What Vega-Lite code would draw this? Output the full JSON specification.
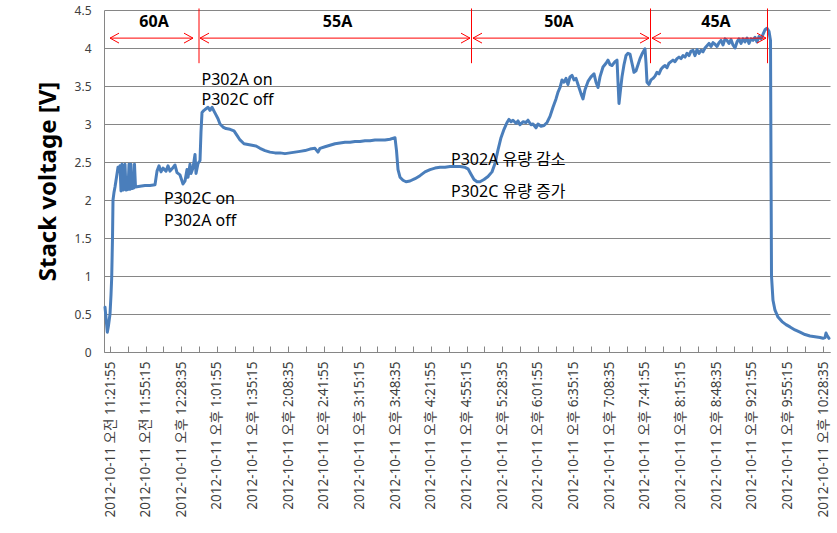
{
  "$schema": "https://vega.github.io/schema/vega-lite/v6.json",
  "width": 726,
  "height": 342,
  "autosize": "none",
  "padding": {"left": 104, "top": 10, "right": 7, "bottom": 181},
  "background": "white",
  "config": {"view": {"stroke": null}},
  "datasets": {
    "series": [
      {"t":"2012-10-11T11:17:15Z","v":0.59},{"t":"2012-10-11T11:18:11Z","v":0.45},{"t":"2012-10-11T11:19:24Z","v":0.26},{"t":"2012-10-11T11:20:31Z","v":0.35},
      {"t":"2012-10-11T11:21:55Z","v":0.5},{"t":"2012-10-11T11:22:51Z","v":0.75},{"t":"2012-10-11T11:23:30Z","v":0.98},{"t":"2012-10-11T11:24:15Z","v":1.5},
      {"t":"2012-10-11T11:24:43Z","v":2.0},{"t":"2012-10-11T11:25:39Z","v":2.1},{"t":"2012-10-11T11:26:35Z","v":2.17},{"t":"2012-10-11T11:27:59Z","v":2.3},
      {"t":"2012-10-11T11:29:24Z","v":2.43},{"t":"2012-10-11T11:30:20Z","v":2.38},{"t":"2012-10-11T11:31:16Z","v":2.45},{"t":"2012-10-11T11:32:12Z","v":2.12},
      {"t":"2012-10-11T11:33:08Z","v":2.47},{"t":"2012-10-11T11:34:04Z","v":2.13},{"t":"2012-10-11T11:35:28Z","v":2.15},{"t":"2012-10-11T11:35:56Z","v":2.47},
      {"t":"2012-10-11T11:36:53Z","v":2.13},{"t":"2012-10-11T11:38:45Z","v":2.14},{"t":"2012-10-11T11:39:41Z","v":2.47},{"t":"2012-10-11T11:40:37Z","v":2.14},
      {"t":"2012-10-11T11:41:33Z","v":2.47},{"t":"2012-10-11T11:42:29Z","v":2.15},{"t":"2012-10-11T11:44:21Z","v":2.16},{"t":"2012-10-11T11:44:49Z","v":2.47},
      {"t":"2012-10-11T11:45:45Z","v":2.17},{"t":"2012-10-11T11:49:58Z","v":2.18},{"t":"2012-10-11T11:54:38Z","v":2.19},{"t":"2012-10-11T11:59:19Z","v":2.19},
      {"t":"2012-10-11T12:03:59Z","v":2.2},{"t":"2012-10-11T12:05:52Z","v":2.38},{"t":"2012-10-11T12:07:44Z","v":2.45},{"t":"2012-10-11T12:09:36Z","v":2.37},
      {"t":"2012-10-11T12:11:28Z","v":2.42},{"t":"2012-10-11T12:14:17Z","v":2.38},{"t":"2012-10-11T12:16:09Z","v":2.45},{"t":"2012-10-11T12:18:01Z","v":2.38},
      {"t":"2012-10-11T12:19:53Z","v":2.41},{"t":"2012-10-11T12:22:41Z","v":2.46},{"t":"2012-10-11T12:24:34Z","v":2.36},{"t":"2012-10-11T12:27:22Z","v":2.33},
      {"t":"2012-10-11T12:30:10Z","v":2.21},{"t":"2012-10-11T12:32:03Z","v":2.25},{"t":"2012-10-11T12:33:55Z","v":2.4},{"t":"2012-10-11T12:34:51Z","v":2.3},
      {"t":"2012-10-11T12:36:43Z","v":2.47},{"t":"2012-10-11T12:37:39Z","v":2.35},{"t":"2012-10-11T12:39:31Z","v":2.42},{"t":"2012-10-11T12:41:23Z","v":2.6},
      {"t":"2012-10-11T12:42:20Z","v":2.35},{"t":"2012-10-11T12:44:12Z","v":2.48},{"t":"2012-10-11T12:46:04Z","v":2.52},{"t":"2012-10-11T12:47:00Z","v":2.9},
      {"t":"2012-10-11T12:47:56Z","v":3.15},{"t":"2012-10-11T12:49:48Z","v":3.18},{"t":"2012-10-11T12:51:40Z","v":3.2},{"t":"2012-10-11T12:53:33Z","v":3.22},
      {"t":"2012-10-11T12:55:25Z","v":3.18},{"t":"2012-10-11T12:57:17Z","v":3.22},{"t":"2012-10-11T12:59:09Z","v":3.17},{"t":"2012-10-11T13:01:01Z","v":3.12},
      {"t":"2012-10-11T13:02:54Z","v":3.07},{"t":"2012-10-11T13:04:46Z","v":3.0},{"t":"2012-10-11T13:07:34Z","v":2.96},{"t":"2012-10-11T13:10:23Z","v":2.94},
      {"t":"2012-10-11T13:14:07Z","v":2.93},{"t":"2012-10-11T13:17:51Z","v":2.91},{"t":"2012-10-11T13:20:40Z","v":2.85},{"t":"2012-10-11T13:23:28Z","v":2.79},
      {"t":"2012-10-11T13:27:12Z","v":2.74},{"t":"2012-10-11T13:30:57Z","v":2.73},{"t":"2012-10-11T13:34:41Z","v":2.72},{"t":"2012-10-11T13:38:26Z","v":2.71},
      {"t":"2012-10-11T13:42:10Z","v":2.68},{"t":"2012-10-11T13:46:50Z","v":2.65},{"t":"2012-10-11T13:51:31Z","v":2.63},{"t":"2012-10-11T13:56:11Z","v":2.62},
      {"t":"2012-10-11T14:00:52Z","v":2.62},{"t":"2012-10-11T14:05:32Z","v":2.61},{"t":"2012-10-11T14:10:13Z","v":2.62},{"t":"2012-10-11T14:14:53Z","v":2.63},
      {"t":"2012-10-11T14:19:34Z","v":2.64},{"t":"2012-10-11T14:24:14Z","v":2.65},{"t":"2012-10-11T14:28:55Z","v":2.67},{"t":"2012-10-11T14:33:35Z","v":2.68},
      {"t":"2012-10-11T14:36:24Z","v":2.63},{"t":"2012-10-11T14:38:16Z","v":2.68},{"t":"2012-10-11T14:42:56Z","v":2.7},{"t":"2012-10-11T14:47:37Z","v":2.72},
      {"t":"2012-10-11T14:52:17Z","v":2.74},{"t":"2012-10-11T14:56:58Z","v":2.75},{"t":"2012-10-11T15:01:38Z","v":2.76},{"t":"2012-10-11T15:06:19Z","v":2.76},
      {"t":"2012-10-11T15:10:59Z","v":2.77},{"t":"2012-10-11T15:15:40Z","v":2.77},{"t":"2012-10-11T15:20:20Z","v":2.78},{"t":"2012-10-11T15:25:01Z","v":2.78},
      {"t":"2012-10-11T15:29:41Z","v":2.79},{"t":"2012-10-11T15:34:22Z","v":2.79},{"t":"2012-10-11T15:39:02Z","v":2.79},{"t":"2012-10-11T15:43:43Z","v":2.8},
      {"t":"2012-10-11T15:48:23Z","v":2.82},{"t":"2012-10-11T15:49:48Z","v":2.65},{"t":"2012-10-11T15:51:12Z","v":2.4},{"t":"2012-10-11T15:53:04Z","v":2.3},
      {"t":"2012-10-11T15:55:52Z","v":2.26},{"t":"2012-10-11T15:58:41Z","v":2.24},{"t":"2012-10-11T16:02:25Z","v":2.25},{"t":"2012-10-11T16:07:05Z","v":2.28},
      {"t":"2012-10-11T16:11:46Z","v":2.32},{"t":"2012-10-11T16:16:26Z","v":2.37},{"t":"2012-10-11T16:21:07Z","v":2.4},{"t":"2012-10-11T16:25:47Z","v":2.42},
      {"t":"2012-10-11T16:30:28Z","v":2.43},{"t":"2012-10-11T16:35:08Z","v":2.43},{"t":"2012-10-11T16:39:49Z","v":2.44},{"t":"2012-10-11T16:44:29Z","v":2.44},
      {"t":"2012-10-11T16:49:10Z","v":2.44},{"t":"2012-10-11T16:53:50Z","v":2.43},{"t":"2012-10-11T16:56:39Z","v":2.41},{"t":"2012-10-11T16:59:27Z","v":2.34},
      {"t":"2012-10-11T17:02:16Z","v":2.27},{"t":"2012-10-11T17:05:04Z","v":2.24},{"t":"2012-10-11T17:07:52Z","v":2.24},{"t":"2012-10-11T17:11:37Z","v":2.27},
      {"t":"2012-10-11T17:15:21Z","v":2.31},{"t":"2012-10-11T17:19:05Z","v":2.37},{"t":"2012-10-11T17:21:53Z","v":2.48},{"t":"2012-10-11T17:24:42Z","v":2.66},
      {"t":"2012-10-11T17:27:30Z","v":2.82},{"t":"2012-10-11T17:30:19Z","v":2.93},{"t":"2012-10-11T17:33:07Z","v":3.02},{"t":"2012-10-11T17:34:59Z","v":3.06},
      {"t":"2012-10-11T17:36:51Z","v":3.03},{"t":"2012-10-11T17:38:43Z","v":3.05},{"t":"2012-10-11T17:41:32Z","v":3.01},{"t":"2012-10-11T17:43:24Z","v":3.04},
      {"t":"2012-10-11T17:45:16Z","v":2.99},{"t":"2012-10-11T17:48:04Z","v":3.03},{"t":"2012-10-11T17:50:53Z","v":3.02},{"t":"2012-10-11T17:52:45Z","v":3.05},
      {"t":"2012-10-11T17:55:33Z","v":2.99},{"t":"2012-10-11T17:57:25Z","v":3.0},{"t":"2012-10-11T18:00:14Z","v":2.95},{"t":"2012-10-11T18:02:06Z","v":3.0},
      {"t":"2012-10-11T18:04:54Z","v":2.97},{"t":"2012-10-11T18:07:43Z","v":2.98},{"t":"2012-10-11T18:10:31Z","v":3.02},{"t":"2012-10-11T18:13:19Z","v":3.1},
      {"t":"2012-10-11T18:16:07Z","v":3.22},{"t":"2012-10-11T18:18:56Z","v":3.33},{"t":"2012-10-11T18:20:48Z","v":3.42},{"t":"2012-10-11T18:22:40Z","v":3.48},
      {"t":"2012-10-11T18:24:32Z","v":3.58},{"t":"2012-10-11T18:26:25Z","v":3.55},{"t":"2012-10-11T18:28:17Z","v":3.6},{"t":"2012-10-11T18:30:09Z","v":3.52},
      {"t":"2012-10-11T18:32:01Z","v":3.62},{"t":"2012-10-11T18:33:53Z","v":3.64},{"t":"2012-10-11T18:35:46Z","v":3.58},{"t":"2012-10-11T18:37:38Z","v":3.6},
      {"t":"2012-10-11T18:39:30Z","v":3.52},{"t":"2012-10-11T18:42:18Z","v":3.4},{"t":"2012-10-11T18:44:10Z","v":3.33},{"t":"2012-10-11T18:46:02Z","v":3.45},
      {"t":"2012-10-11T18:48:51Z","v":3.56},{"t":"2012-10-11T18:51:39Z","v":3.62},{"t":"2012-10-11T18:54:28Z","v":3.66},{"t":"2012-10-11T18:56:20Z","v":3.55},
      {"t":"2012-10-11T18:58:12Z","v":3.48},{"t":"2012-10-11T19:00:04Z","v":3.62},{"t":"2012-10-11T19:02:52Z","v":3.75},{"t":"2012-10-11T19:05:41Z","v":3.8},
      {"t":"2012-10-11T19:07:33Z","v":3.84},{"t":"2012-10-11T19:09:25Z","v":3.78},{"t":"2012-10-11T19:11:17Z","v":3.77},{"t":"2012-10-11T19:14:05Z","v":3.82},
      {"t":"2012-10-11T19:15:58Z","v":3.84},{"t":"2012-10-11T19:16:54Z","v":3.55},{"t":"2012-10-11T19:17:50Z","v":3.27},{"t":"2012-10-11T19:19:14Z","v":3.45},
      {"t":"2012-10-11T19:20:38Z","v":3.62},{"t":"2012-10-11T19:22:30Z","v":3.78},{"t":"2012-10-11T19:24:23Z","v":3.9},{"t":"2012-10-11T19:26:15Z","v":3.93},
      {"t":"2012-10-11T19:28:07Z","v":3.92},{"t":"2012-10-11T19:29:59Z","v":3.8},{"t":"2012-10-11T19:31:51Z","v":3.68},{"t":"2012-10-11T19:33:44Z","v":3.7},
      {"t":"2012-10-11T19:35:36Z","v":3.78},{"t":"2012-10-11T19:37:28Z","v":3.86},{"t":"2012-10-11T19:39:20Z","v":3.92},{"t":"2012-10-11T19:42:08Z","v":3.99},
      {"t":"2012-10-11T19:43:05Z","v":3.8},{"t":"2012-10-11T19:44:01Z","v":3.55},{"t":"2012-10-11T19:45:53Z","v":3.52},{"t":"2012-10-11T19:47:45Z","v":3.58},
      {"t":"2012-10-11T19:49:37Z","v":3.6},{"t":"2012-10-11T19:51:30Z","v":3.63},{"t":"2012-10-11T19:53:22Z","v":3.68},{"t":"2012-10-11T19:55:14Z","v":3.66},
      {"t":"2012-10-11T19:57:06Z","v":3.72},{"t":"2012-10-11T19:58:58Z","v":3.75},{"t":"2012-10-11T20:00:51Z","v":3.77},{"t":"2012-10-11T20:02:43Z","v":3.74},
      {"t":"2012-10-11T20:04:35Z","v":3.8},{"t":"2012-10-11T20:06:27Z","v":3.82},{"t":"2012-10-11T20:08:19Z","v":3.84},{"t":"2012-10-11T20:10:12Z","v":3.82},
      {"t":"2012-10-11T20:12:04Z","v":3.86},{"t":"2012-10-11T20:13:56Z","v":3.88},{"t":"2012-10-11T20:15:48Z","v":3.86},{"t":"2012-10-11T20:17:40Z","v":3.9},
      {"t":"2012-10-11T20:19:33Z","v":3.88},{"t":"2012-10-11T20:21:25Z","v":3.93},{"t":"2012-10-11T20:23:17Z","v":3.9},{"t":"2012-10-11T20:25:09Z","v":3.96},
      {"t":"2012-10-11T20:27:01Z","v":3.97},{"t":"2012-10-11T20:28:54Z","v":3.9},{"t":"2012-10-11T20:30:46Z","v":3.98},{"t":"2012-10-11T20:32:38Z","v":3.93},
      {"t":"2012-10-11T20:34:30Z","v":3.97},{"t":"2012-10-11T20:36:22Z","v":3.95},{"t":"2012-10-11T20:38:15Z","v":4.0},{"t":"2012-10-11T20:40:07Z","v":4.03},
      {"t":"2012-10-11T20:41:59Z","v":4.06},{"t":"2012-10-11T20:43:51Z","v":4.02},{"t":"2012-10-11T20:45:43Z","v":4.07},{"t":"2012-10-11T20:47:36Z","v":4.05},
      {"t":"2012-10-11T20:49:28Z","v":4.02},{"t":"2012-10-11T20:51:20Z","v":4.07},{"t":"2012-10-11T20:53:12Z","v":4.1},{"t":"2012-10-11T20:55:04Z","v":4.04},
      {"t":"2012-10-11T20:56:57Z","v":4.12},{"t":"2012-10-11T20:58:49Z","v":4.1},{"t":"2012-10-11T21:00:41Z","v":4.06},{"t":"2012-10-11T21:02:33Z","v":4.11},
      {"t":"2012-10-11T21:04:25Z","v":4.04},{"t":"2012-10-11T21:06:18Z","v":4.0},{"t":"2012-10-11T21:08:10Z","v":4.08},{"t":"2012-10-11T21:10:02Z","v":4.12},
      {"t":"2012-10-11T21:11:54Z","v":4.06},{"t":"2012-10-11T21:13:46Z","v":4.12},{"t":"2012-10-11T21:15:39Z","v":4.08},{"t":"2012-10-11T21:17:31Z","v":4.13},
      {"t":"2012-10-11T21:19:23Z","v":4.06},{"t":"2012-10-11T21:21:15Z","v":4.12},{"t":"2012-10-11T21:23:07Z","v":4.1},{"t":"2012-10-11T21:25:00Z","v":4.14},
      {"t":"2012-10-11T21:26:52Z","v":4.08},{"t":"2012-10-11T21:28:44Z","v":4.15},{"t":"2012-10-11T21:30:36Z","v":4.12},{"t":"2012-10-11T21:32:28Z","v":4.18},
      {"t":"2012-10-11T21:34:21Z","v":4.24},{"t":"2012-10-11T21:36:13Z","v":4.26},{"t":"2012-10-11T21:38:05Z","v":4.22},{"t":"2012-10-11T21:39:29Z","v":4.1},
      {"t":"2012-10-11T21:39:57Z","v":2.5},{"t":"2012-10-11T21:40:25Z","v":1.0},{"t":"2012-10-11T21:41:49Z","v":0.68},{"t":"2012-10-11T21:43:41Z","v":0.55},
      {"t":"2012-10-11T21:46:30Z","v":0.46},{"t":"2012-10-11T21:50:14Z","v":0.4},{"t":"2012-10-11T21:53:59Z","v":0.36},{"t":"2012-10-11T21:57:43Z","v":0.33},
      {"t":"2012-10-11T22:02:23Z","v":0.29},{"t":"2012-10-11T22:07:04Z","v":0.26},{"t":"2012-10-11T22:11:44Z","v":0.23},{"t":"2012-10-11T22:16:25Z","v":0.21},
      {"t":"2012-10-11T22:21:05Z","v":0.2},{"t":"2012-10-11T22:25:46Z","v":0.19},{"t":"2012-10-11T22:28:34Z","v":0.18},{"t":"2012-10-11T22:30:26Z","v":0.19},
      {"t":"2012-10-11T22:31:23Z","v":0.25},{"t":"2012-10-11T22:32:19Z","v":0.22},{"t":"2012-10-11T22:34:11Z","v":0.18}
    ],
    "segments": [
      {"label":"60A","start":"2012-10-11T11:21:55Z","end":"2012-10-11T12:39:31Z","mid":"2012-10-11T12:03:04Z","v":4.13,"lv":4.34},
      {"label":"55A","start":"2012-10-11T12:46:04Z","end":"2012-10-11T16:58:31Z","mid":"2012-10-11T14:54:38Z","v":4.13,"lv":4.34},
      {"label":"50A","start":"2012-10-11T17:01:19Z","end":"2012-10-11T19:45:53Z","mid":"2012-10-11T18:21:43Z","v":4.13,"lv":4.34},
      {"label":"45A","start":"2012-10-11T19:48:41Z","end":"2012-10-11T21:35:17Z","mid":"2012-10-11T20:48:32Z","v":4.13,"lv":4.34}
    ],
    "boundaries": [
      {"t":"2012-10-11T12:45:08Z","v1":3.8,"v2":4.52},
      {"t":"2012-10-11T16:59:55Z","v1":3.8,"v2":4.52},
      {"t":"2012-10-11T19:47:17Z","v1":3.8,"v2":4.52},
      {"t":"2012-10-11T21:36:41Z","v1":3.8,"v2":4.52}
    ],
    "notes": [
      {"t":"2012-10-11T12:47:28Z","v":3.58,"text":"P302A on"},
      {"t":"2012-10-11T12:47:28Z","v":3.31,"text":"P302C off"},
      {"t":"2012-10-11T12:12:25Z","v":2.01,"text":"P302C on"},
      {"t":"2012-10-11T12:12:25Z","v":1.72,"text":"P302A off"},
      {"t":"2012-10-11T16:40:45Z","v":2.52,"text":"P302A 유량 감소"},
      {"t":"2012-10-11T16:40:45Z","v":2.11,"text":"P302C 유량 증가"}
    ]
  },
  "layer": [
    {
      "data": {"name": "series"},
      "mark": {"type": "line", "color": "#4a7ebb", "strokeWidth": 3, "strokeJoin": "round", "strokeCap": "round"},
      "encoding": {
        "x": {
          "field": "t", "type": "temporal",
          "scale": {"type": "utc", "domain": [1349954178000, 1349994907000], "nice": false},
          "axis": {
            "title": null, "grid": false,
            "values": [1349954515000,1349955515000,1349956515000,1349957515000,1349958515000,1349959515000,1349960515000,1349961515000,1349962515000,1349963515000,1349964515000,1349965515000,1349966515000,1349967515000,1349968515000,1349969515000,1349970515000,1349971515000,1349972515000,1349973515000,1349974515000,1349975515000,1349976515000,1349977515000,1349978515000,1349979515000,1349980515000,1349981515000,1349982515000,1349983515000,1349984515000,1349985515000,1349986515000,1349987515000,1349988515000,1349989515000,1349990515000,1349991515000,1349992515000,1349993515000,1349994515000],
            "labelExpr": "((datum.value - 1349954515000) / 1000000) % 2 == 0 ? utcFormat(datum.value, '%Y-%m-%d') + ' ' + (utchours(datum.value) < 12 ? '오전' : '오후') + ' ' + utcFormat(datum.value, '%-I:%M:%S') : ''",
            "labelAngle": -90, "labelOverlap": false, "labelFlush": false, "labelBound": false,
            "labelFont": "Noto Sans, Noto Sans CJK KR", "labelFontSize": 13.5, "labelColor": "#404040",
            "labelPadding": 15, "tickSize": -6, "tickColor": "#868686", "domainColor": "#868686"
          }
        },
        "y": {
          "field": "v", "type": "quantitative",
          "scale": {"domain": [0, 4.5], "nice": false},
          "axis": {
            "title": "Stack voltage [V]", "titleFont": "Noto Sans", "titleFontSize": 24, "titleFontWeight": "bold", "titleColor": "#000000", "titlePadding": 14,
            "values": [0, 0.5, 1, 1.5, 2, 2.5, 3, 3.5, 4, 4.5], "format": ".1~f",
            "ticks": false, "labelOverlap": false, "labelPadding": 13, "labelFont": "Noto Sans", "labelFontSize": 12, "labelColor": "#404040",
            "grid": true, "gridColor": "#868686", "gridWidth": 1, "domainColor": "#868686"
          }
        }
      }
    },
    {
      "data": {"name": "boundaries"},
      "mark": {"type": "rule", "color": "#ff0000", "strokeWidth": 1},
      "encoding": {
        "x": {"field": "t", "type": "temporal",
          "axis": {
            "title": null, "grid": false,
            "values": [1349954515000,1349955515000,1349956515000,1349957515000,1349958515000,1349959515000,1349960515000,1349961515000,1349962515000,1349963515000,1349964515000,1349965515000,1349966515000,1349967515000,1349968515000,1349969515000,1349970515000,1349971515000,1349972515000,1349973515000,1349974515000,1349975515000,1349976515000,1349977515000,1349978515000,1349979515000,1349980515000,1349981515000,1349982515000,1349983515000,1349984515000,1349985515000,1349986515000,1349987515000,1349988515000,1349989515000,1349990515000,1349991515000,1349992515000,1349993515000,1349994515000],
            "labelExpr": "((datum.value - 1349954515000) / 1000000) % 2 == 0 ? utcFormat(datum.value, '%Y-%m-%d') + ' ' + (utchours(datum.value) < 12 ? '오전' : '오후') + ' ' + utcFormat(datum.value, '%-I:%M:%S') : ''",
            "labelAngle": -90, "labelOverlap": false, "labelFlush": false, "labelBound": false,
            "labelFont": "Noto Sans, Noto Sans CJK KR", "labelFontSize": 13.5, "labelColor": "#404040",
            "labelPadding": 15, "tickSize": -6, "tickColor": "#868686", "domainColor": "#868686"
          }},
        "y": {"field": "v1", "type": "quantitative",
          "axis": {
            "title": "Stack voltage [V]", "titleFont": "Noto Sans", "titleFontSize": 24, "titleFontWeight": "bold", "titleColor": "#000000", "titlePadding": 14,
            "values": [0, 0.5, 1, 1.5, 2, 2.5, 3, 3.5, 4, 4.5], "format": ".1~f",
            "ticks": false, "labelOverlap": false, "labelPadding": 13, "labelFont": "Noto Sans", "labelFontSize": 12, "labelColor": "#404040",
            "grid": true, "gridColor": "#868686", "gridWidth": 1, "domainColor": "#868686"
          }},
        "y2": {"field": "v2"}
      }
    },
    {
      "data": {"name": "segments"},
      "mark": {"type": "rule", "color": "#ff0000", "strokeWidth": 1},
      "encoding": {
        "x": {"field": "start", "type": "temporal",
          "axis": {
            "title": null, "grid": false,
            "values": [1349954515000,1349955515000,1349956515000,1349957515000,1349958515000,1349959515000,1349960515000,1349961515000,1349962515000,1349963515000,1349964515000,1349965515000,1349966515000,1349967515000,1349968515000,1349969515000,1349970515000,1349971515000,1349972515000,1349973515000,1349974515000,1349975515000,1349976515000,1349977515000,1349978515000,1349979515000,1349980515000,1349981515000,1349982515000,1349983515000,1349984515000,1349985515000,1349986515000,1349987515000,1349988515000,1349989515000,1349990515000,1349991515000,1349992515000,1349993515000,1349994515000],
            "labelExpr": "((datum.value - 1349954515000) / 1000000) % 2 == 0 ? utcFormat(datum.value, '%Y-%m-%d') + ' ' + (utchours(datum.value) < 12 ? '오전' : '오후') + ' ' + utcFormat(datum.value, '%-I:%M:%S') : ''",
            "labelAngle": -90, "labelOverlap": false, "labelFlush": false, "labelBound": false,
            "labelFont": "Noto Sans, Noto Sans CJK KR", "labelFontSize": 13.5, "labelColor": "#404040",
            "labelPadding": 15, "tickSize": -6, "tickColor": "#868686", "domainColor": "#868686"
          }},
        "x2": {"field": "end"},
        "y": {"field": "v", "type": "quantitative",
          "axis": {
            "title": "Stack voltage [V]", "titleFont": "Noto Sans", "titleFontSize": 24, "titleFontWeight": "bold", "titleColor": "#000000", "titlePadding": 14,
            "values": [0, 0.5, 1, 1.5, 2, 2.5, 3, 3.5, 4, 4.5], "format": ".1~f",
            "ticks": false, "labelOverlap": false, "labelPadding": 13, "labelFont": "Noto Sans", "labelFontSize": 12, "labelColor": "#404040",
            "grid": true, "gridColor": "#868686", "gridWidth": 1, "domainColor": "#868686"
          }}
      }
    },
    {
      "data": {"name": "segments"},
      "mark": {"type": "point", "shape": "M0,0L2,-1.1M0,0L2,1.1", "size": 81, "filled": false, "stroke": "#ff0000", "strokeWidth": 1, "opacity": 1},
      "encoding": {
        "x": {"field": "start", "type": "temporal",
          "axis": {
            "title": null, "grid": false,
            "values": [1349954515000,1349955515000,1349956515000,1349957515000,1349958515000,1349959515000,1349960515000,1349961515000,1349962515000,1349963515000,1349964515000,1349965515000,1349966515000,1349967515000,1349968515000,1349969515000,1349970515000,1349971515000,1349972515000,1349973515000,1349974515000,1349975515000,1349976515000,1349977515000,1349978515000,1349979515000,1349980515000,1349981515000,1349982515000,1349983515000,1349984515000,1349985515000,1349986515000,1349987515000,1349988515000,1349989515000,1349990515000,1349991515000,1349992515000,1349993515000,1349994515000],
            "labelExpr": "((datum.value - 1349954515000) / 1000000) % 2 == 0 ? utcFormat(datum.value, '%Y-%m-%d') + ' ' + (utchours(datum.value) < 12 ? '오전' : '오후') + ' ' + utcFormat(datum.value, '%-I:%M:%S') : ''",
            "labelAngle": -90, "labelOverlap": false, "labelFlush": false, "labelBound": false,
            "labelFont": "Noto Sans, Noto Sans CJK KR", "labelFontSize": 13.5, "labelColor": "#404040",
            "labelPadding": 15, "tickSize": -6, "tickColor": "#868686", "domainColor": "#868686"
          }},
        "y": {"field": "v", "type": "quantitative",
          "axis": {
            "title": "Stack voltage [V]", "titleFont": "Noto Sans", "titleFontSize": 24, "titleFontWeight": "bold", "titleColor": "#000000", "titlePadding": 14,
            "values": [0, 0.5, 1, 1.5, 2, 2.5, 3, 3.5, 4, 4.5], "format": ".1~f",
            "ticks": false, "labelOverlap": false, "labelPadding": 13, "labelFont": "Noto Sans", "labelFontSize": 12, "labelColor": "#404040",
            "grid": true, "gridColor": "#868686", "gridWidth": 1, "domainColor": "#868686"
          }}
      }
    },
    {
      "data": {"name": "segments"},
      "mark": {"type": "point", "shape": "M0,0L-2,-1.1M0,0L-2,1.1", "size": 81, "filled": false, "stroke": "#ff0000", "strokeWidth": 1, "opacity": 1},
      "encoding": {
        "x": {"field": "end", "type": "temporal",
          "axis": {
            "title": null, "grid": false,
            "values": [1349954515000,1349955515000,1349956515000,1349957515000,1349958515000,1349959515000,1349960515000,1349961515000,1349962515000,1349963515000,1349964515000,1349965515000,1349966515000,1349967515000,1349968515000,1349969515000,1349970515000,1349971515000,1349972515000,1349973515000,1349974515000,1349975515000,1349976515000,1349977515000,1349978515000,1349979515000,1349980515000,1349981515000,1349982515000,1349983515000,1349984515000,1349985515000,1349986515000,1349987515000,1349988515000,1349989515000,1349990515000,1349991515000,1349992515000,1349993515000,1349994515000],
            "labelExpr": "((datum.value - 1349954515000) / 1000000) % 2 == 0 ? utcFormat(datum.value, '%Y-%m-%d') + ' ' + (utchours(datum.value) < 12 ? '오전' : '오후') + ' ' + utcFormat(datum.value, '%-I:%M:%S') : ''",
            "labelAngle": -90, "labelOverlap": false, "labelFlush": false, "labelBound": false,
            "labelFont": "Noto Sans, Noto Sans CJK KR", "labelFontSize": 13.5, "labelColor": "#404040",
            "labelPadding": 15, "tickSize": -6, "tickColor": "#868686", "domainColor": "#868686"
          }},
        "y": {"field": "v", "type": "quantitative",
          "axis": {
            "title": "Stack voltage [V]", "titleFont": "Noto Sans", "titleFontSize": 24, "titleFontWeight": "bold", "titleColor": "#000000", "titlePadding": 14,
            "values": [0, 0.5, 1, 1.5, 2, 2.5, 3, 3.5, 4, 4.5], "format": ".1~f",
            "ticks": false, "labelOverlap": false, "labelPadding": 13, "labelFont": "Noto Sans", "labelFontSize": 12, "labelColor": "#404040",
            "grid": true, "gridColor": "#868686", "gridWidth": 1, "domainColor": "#868686"
          }}
      }
    },
    {
      "data": {"name": "segments"},
      "mark": {"type": "text", "font": "Noto Sans", "fontSize": 16, "fontWeight": "bold", "color": "#000000", "align": "center", "baseline": "middle"},
      "encoding": {
        "x": {"field": "mid", "type": "temporal",
          "axis": {
            "title": null, "grid": false,
            "values": [1349954515000,1349955515000,1349956515000,1349957515000,1349958515000,1349959515000,1349960515000,1349961515000,1349962515000,1349963515000,1349964515000,1349965515000,1349966515000,1349967515000,1349968515000,1349969515000,1349970515000,1349971515000,1349972515000,1349973515000,1349974515000,1349975515000,1349976515000,1349977515000,1349978515000,1349979515000,1349980515000,1349981515000,1349982515000,1349983515000,1349984515000,1349985515000,1349986515000,1349987515000,1349988515000,1349989515000,1349990515000,1349991515000,1349992515000,1349993515000,1349994515000],
            "labelExpr": "((datum.value - 1349954515000) / 1000000) % 2 == 0 ? utcFormat(datum.value, '%Y-%m-%d') + ' ' + (utchours(datum.value) < 12 ? '오전' : '오후') + ' ' + utcFormat(datum.value, '%-I:%M:%S') : ''",
            "labelAngle": -90, "labelOverlap": false, "labelFlush": false, "labelBound": false,
            "labelFont": "Noto Sans, Noto Sans CJK KR", "labelFontSize": 13.5, "labelColor": "#404040",
            "labelPadding": 15, "tickSize": -6, "tickColor": "#868686", "domainColor": "#868686"
          }},
        "y": {"field": "lv", "type": "quantitative",
          "axis": {
            "title": "Stack voltage [V]", "titleFont": "Noto Sans", "titleFontSize": 24, "titleFontWeight": "bold", "titleColor": "#000000", "titlePadding": 14,
            "values": [0, 0.5, 1, 1.5, 2, 2.5, 3, 3.5, 4, 4.5], "format": ".1~f",
            "ticks": false, "labelOverlap": false, "labelPadding": 13, "labelFont": "Noto Sans", "labelFontSize": 12, "labelColor": "#404040",
            "grid": true, "gridColor": "#868686", "gridWidth": 1, "domainColor": "#868686"
          }},
        "text": {"field": "label"}
      }
    },
    {
      "data": {"name": "notes"},
      "mark": {"type": "text", "font": "Noto Sans, Noto Sans CJK KR", "fontSize": 16, "color": "#000000", "align": "left", "baseline": "middle"},
      "encoding": {
        "x": {"field": "t", "type": "temporal",
          "axis": {
            "title": null, "grid": false,
            "values": [1349954515000,1349955515000,1349956515000,1349957515000,1349958515000,1349959515000,1349960515000,1349961515000,1349962515000,1349963515000,1349964515000,1349965515000,1349966515000,1349967515000,1349968515000,1349969515000,1349970515000,1349971515000,1349972515000,1349973515000,1349974515000,1349975515000,1349976515000,1349977515000,1349978515000,1349979515000,1349980515000,1349981515000,1349982515000,1349983515000,1349984515000,1349985515000,1349986515000,1349987515000,1349988515000,1349989515000,1349990515000,1349991515000,1349992515000,1349993515000,1349994515000],
            "labelExpr": "((datum.value - 1349954515000) / 1000000) % 2 == 0 ? utcFormat(datum.value, '%Y-%m-%d') + ' ' + (utchours(datum.value) < 12 ? '오전' : '오후') + ' ' + utcFormat(datum.value, '%-I:%M:%S') : ''",
            "labelAngle": -90, "labelOverlap": false, "labelFlush": false, "labelBound": false,
            "labelFont": "Noto Sans, Noto Sans CJK KR", "labelFontSize": 13.5, "labelColor": "#404040",
            "labelPadding": 15, "tickSize": -6, "tickColor": "#868686", "domainColor": "#868686"
          }},
        "y": {"field": "v", "type": "quantitative",
          "axis": {
            "title": "Stack voltage [V]", "titleFont": "Noto Sans", "titleFontSize": 24, "titleFontWeight": "bold", "titleColor": "#000000", "titlePadding": 14,
            "values": [0, 0.5, 1, 1.5, 2, 2.5, 3, 3.5, 4, 4.5], "format": ".1~f",
            "ticks": false, "labelOverlap": false, "labelPadding": 13, "labelFont": "Noto Sans", "labelFontSize": 12, "labelColor": "#404040",
            "grid": true, "gridColor": "#868686", "gridWidth": 1, "domainColor": "#868686"
          }},
        "text": {"field": "text"}
      }
    }
  ]
}
